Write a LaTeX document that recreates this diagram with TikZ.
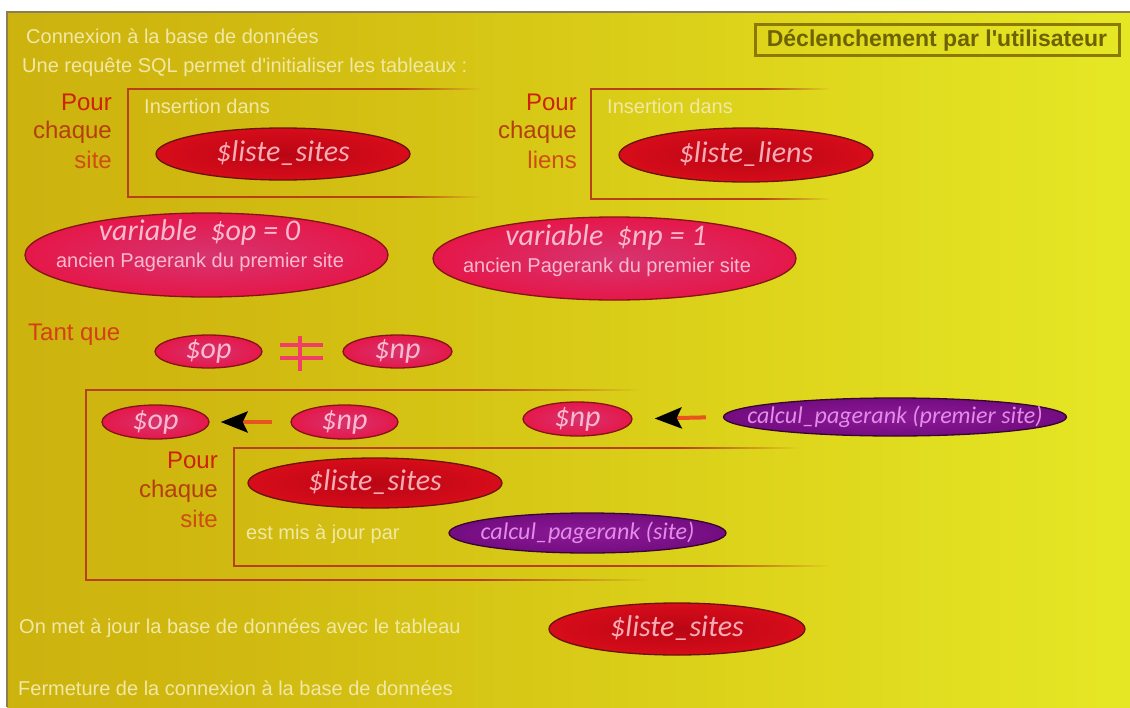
\documentclass[tikz,border=0pt]{standalone}
\usepackage{fontspec}
\setmainfont{Liberation Sans}
\newfontfamily\carlito{Carlito}
\usetikzlibrary{shapes.geometric,arrows.meta,fadings}

% panel colours
\definecolor{bgA}{RGB}{195,162,10}
\definecolor{bgB}{RGB}{208,185,16}
\definecolor{bgC}{RGB}{222,214,28}
\definecolor{bgD}{RGB}{232,237,40}
\definecolor{bgE}{RGB}{230,235,40}
\definecolor{framegray}{RGB}{140,125,85}
\definecolor{lighttext}{RGB}{242,232,165}
\definecolor{pourA}{RGB}{204,34,10}
\definecolor{pourB}{RGB}{180,62,14}
\definecolor{pourC}{RGB}{205,78,16}
\definecolor{tantred}{RGB}{214,62,22}
\definecolor{boxline}{RGB}{184,64,26}
\definecolor{decltext}{RGB}{110,98,0}
\definecolor{declborder}{RGB}{140,122,0}
% ellipse colours
\definecolor{redC}{RGB}{185,6,20}
\definecolor{redM}{RGB}{214,12,26}
\definecolor{redE}{RGB}{175,8,16}
\definecolor{redB}{RGB}{105,20,10}
\definecolor{redT}{RGB}{250,172,182}
\definecolor{pinkC}{RGB}{214,52,112}
\definecolor{pinkM}{RGB}{230,22,72}
\definecolor{pinkE}{RGB}{222,18,64}
\definecolor{pinkB}{RGB}{130,22,20}
\definecolor{pinkT}{RGB}{250,186,206}
\definecolor{purC}{RGB}{140,26,150}
\definecolor{purM}{RGB}{115,12,128}
\definecolor{purE}{RGB}{95,8,105}
\definecolor{purB}{RGB}{55,5,50}
\definecolor{purT}{RGB}{226,140,232}
\definecolor{neqpink}{RGB}{240,62,105}
\definecolor{arrowline}{RGB}{232,84,30}

\pgfdeclarehorizontalshading{panelbg}{100bp}{color(0bp)=(bgA); color(35bp)=(bgB); color(60bp)=(bgC); color(80bp)=(bgD); color(100bp)=(bgE)}
\pgfdeclareradialshading{redglow}{\pgfpoint{0bp}{0bp}}{color(0bp)=(redC); color(24bp)=(redM); color(44bp)=(redM); color(50bp)=(redE)}
\pgfdeclareradialshading{pinkglow}{\pgfpoint{0bp}{0bp}}{color(0bp)=(pinkC); color(26bp)=(pinkM); color(44bp)=(pinkM); color(50bp)=(pinkE)}
\pgfdeclareradialshading{purglow}{\pgfpoint{0bp}{0bp}}{color(0bp)=(purC); color(26bp)=(purM); color(44bp)=(purM); color(50bp)=(purE)}
\tikzfading[name=fadeeast, left color=transparent!0, right color=transparent!100]

% horizontal box edge: solid from #1 to #2, fading out from #2 to #3, at height #4
\newcommand\panelrule[4]{%
  \fill[boxline] (#1,#4-1.1) rectangle (#2,#4+1.1);
  \fill[boxline, path fading=fadeeast] (#2,#4-1.1) rectangle (#3,#4+1.1);
}

\begin{document}
\begin{tikzpicture}[x=1pt, y=-1pt,
  plain/.style={text=lighttext, font=\fontsize{20}{24}\selectfont, inner sep=0pt, anchor=base west},
  pourtext/.style={font=\fontsize{24}{29}\selectfont, inner sep=0pt, anchor=base east},
  ellbase/.style={ellipse, inner sep=0pt, line width=1.3pt},
  redell/.style={ellbase, draw=redB, shading=redglow},
  pinkell/.style={ellbase, draw=pinkB, shading=pinkglow},
  purell/.style={ellbase, draw=purB, shading=purglow},
  biglabel/.style={font=\carlito\itshape\fontsize{30}{36}\selectfont, inner sep=0pt, anchor=base},
  smalllabel/.style={font=\carlito\itshape\fontsize{24}{29}\selectfont, inner sep=0pt, anchor=base},
  flow/.style={draw=arrowline, line width=4pt, -{Stealth[length=27pt,width=21pt,inset=5pt,black]}},
  vline/.style={draw=boxline, line width=2.2pt}
]
\useasboundingbox[fill=white] (0,0) rectangle (1130,707);

% panel
\shade[shading=panelbg] (7,12) rectangle (1130,707);
\draw[framegray, line width=2.5pt] (7,707) -- (7,12) -- (1130,12);

% header
\node[plain] (conn) at (26,43) {Connexion à la base de données};
\node[plain] (sql) at (22,72) {Une requête SQL permet d\textquotesingle initialiser les tableaux :};
\node[draw=declborder, line width=3pt, minimum width=364pt, minimum height=31pt, inner sep=0pt,
      text=decltext, font=\bfseries\fontsize{23}{28}\selectfont, text height=16pt, text depth=3pt]
      (trig) at (937,39.5) {Déclenchement par l\textquotesingle utilisateur};

% initialisation of the sites table
\node[pourtext, text=pourA] (p1a) at (112,110) {Pour};
\node[pourtext, text=pourB] (p1b) at (112,138) {chaque};
\node[pourtext, text=pourC] (p1c) at (112,168) {site};
\draw[vline] (128,88) -- (128,198);
\panelrule{128}{400}{480}{89}
\panelrule{128}{400}{480}{197}
\node[plain] (ins1) at (144,113) {Insertion dans};
\node[redell, minimum width=254pt, minimum height=52pt] (ls1) at (283,154) {};
\node[biglabel, text=redT] (ls1t) at ([yshift=-7pt]ls1.center) {\$liste\_sites};

% initialisation of the links table
\node[pourtext, text=pourA] (p2a) at (577,110) {Pour};
\node[pourtext, text=pourB] (p2b) at (577,138) {chaque};
\node[pourtext, text=pourC] (p2c) at (577,168) {liens};
\draw[vline] (591,88) -- (591,200);
\panelrule{591}{760}{830}{89}
\panelrule{591}{760}{830}{199}
\node[plain] (ins2) at (607,113) {Insertion dans};
\node[redell, minimum width=254pt, minimum height=54pt] (ll) at (746,155) {};
\node[biglabel, text=redT] (llt) at ([yshift=-7pt]ll.center) {\$liste\_liens};

% the two pagerank variables
\node[pinkell, minimum width=363pt, minimum height=84pt] (vop) at (206.5,255) {};
\node[biglabel, text=pinkT] (vopa) at (199.5,240) {variable\hspace{0.45em}\$op = 0};
\node[text=pinkT, font=\fontsize{20}{24}\selectfont, inner sep=0pt, anchor=base] (vopb) at (200,267) {ancien Pagerank du premier site};
\node[pinkell, minimum width=363pt, minimum height=83pt] (vnp) at (614.5,258.5) {};
\node[biglabel, text=pinkT] (vnpa) at (606,245) {variable\hspace{0.45em}\$np = 1};
\node[text=pinkT, font=\fontsize{20}{24}\selectfont, inner sep=0pt, anchor=base] (vnpb) at (607,272) {ancien Pagerank du premier site};

% loop condition
\node[text=tantred, font=\fontsize{24}{29}\selectfont, inner sep=0pt, anchor=base west] (tq) at (28,340) {Tant que};
\node[pinkell, minimum width=107pt, minimum height=33pt] (op1) at (208.5,351.5) {};
\node[biglabel, text=pinkT] (op1t) at ([yshift=-7pt]op1.center) {\$op};
\draw[neqpink, line width=4.5pt] (280,345) -- (323,345) (280,358) -- (323,358) (300,336) -- (300,371);
\node[pinkell, minimum width=109pt, minimum height=33pt] (np1) at (397.5,351.5) {};
\node[biglabel, text=pinkT] (np1t) at ([yshift=-7pt]np1.center) {\$np};

% loop body
\draw[vline] (86,389) -- (86,581);
\panelrule{86}{480}{640}{390}
\panelrule{86}{480}{650}{580}

\node[pinkell, minimum width=107pt, minimum height=34pt] (op2) at (155.5,422) {};
\node[biglabel, text=pinkT] (op2t) at ([yshift=-7pt]op2.center) {\$op};
\node[pinkell, minimum width=107pt, minimum height=34pt] (np2) at (344.5,422) {};
\node[biglabel, text=pinkT] (np2t) at ([yshift=-7pt]np2.center) {\$np};
\draw[flow, shorten >=11pt, shorten <=18pt] (np2.west) -- (op2.east);

\node[pinkell, minimum width=109pt, minimum height=34pt] (np3) at (577.5,419) {};
\node[biglabel, text=pinkT] (np3t) at ([yshift=-7pt]np3.center) {\$np};
\node[purell, minimum width=343pt, minimum height=38pt] (cpr) at (895,417) {};
\node[smalllabel, text=purT] (cprt) at ([yshift=-6pt]cpr.center) {calcul\_pagerank (premier site)};
\draw[flow, shorten >=22pt, shorten <=17pt] (cpr.west) -- (np3.east);

% inner update of every site
\node[pourtext, text=pourA] (p3a) at (218,468) {Pour};
\node[pourtext, text=pourB] (p3b) at (218,497) {chaque};
\node[pourtext, text=pourC] (p3c) at (218,527) {site};
\draw[vline] (234,447) -- (234,567);
\panelrule{234}{680}{800}{448}
\panelrule{234}{700}{830}{566}
\node[redell, minimum width=254pt, minimum height=50pt] (ls2) at (375,483) {};
\node[biglabel, text=redT] (ls2t) at ([yshift=-7pt]ls2.center) {\$liste\_sites};
\node[plain] (maj) at (246,539) {est mis à jour par};
\node[purell, minimum width=277pt, minimum height=40pt] (cs) at (587.5,533) {};
\node[smalllabel, text=purT] (cst) at ([yshift=-6pt]cs.center) {calcul\_pagerank (site)};

% closing steps
\node[plain] (upd) at (19,633) {On met à jour la base de données avec le tableau};
\node[redell, minimum width=256pt, minimum height=52pt] (ls3) at (677,629) {};
\node[biglabel, text=redT] (ls3t) at ([yshift=-7pt]ls3.center) {\$liste\_sites};
\node[plain] (close) at (18,695) {Fermeture de la connexion à la base de données};
\end{tikzpicture}
\end{document}
